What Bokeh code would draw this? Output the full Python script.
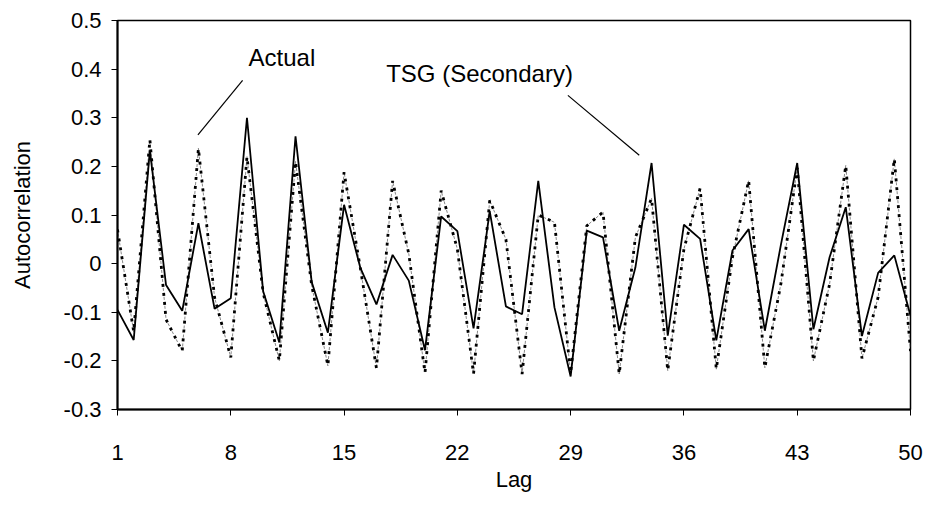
from bokeh.plotting import figure
from bokeh.models import FixedTicker, Range1d
from bokeh.embed import file_html
from bokeh.resources import INLINE
from bokeh.core.properties import value

# ---- data ----
lags = list(range(1, 51))
actual = [0.07, -0.14, 0.255, -0.115, -0.18, 0.237, -0.07, -0.193, 0.22, -0.06,
          -0.2, 0.21, -0.045, -0.21, 0.188, -0.008, -0.215, 0.17, 0.02, -0.225,
          0.15, 0.03, -0.227, 0.13, 0.05, -0.227, 0.1, 0.085, -0.225, 0.078,
          0.106, -0.227, 0.054, 0.134, -0.22, 0.03, 0.155, -0.217, 0.013, 0.171,
          -0.214, -0.04, 0.197, -0.2, -0.042, 0.202, -0.195, -0.069, 0.216, -0.18]
tsg_secondary = [-0.095, -0.157, 0.233, -0.044, -0.097, 0.083, -0.093, -0.071, 0.30, -0.057,
                 -0.162, 0.262, -0.038, -0.142, 0.121, -0.008, -0.084, 0.018, -0.035, -0.178,
                 0.097, 0.067, -0.133, 0.108, -0.088, -0.104, 0.170, -0.090, -0.232, 0.068,
                 0.054, -0.138, -0.008, 0.207, -0.148, 0.080, 0.051, -0.158, 0.027, 0.071,
                 -0.138, 0.04, 0.207, -0.135, 0.013, 0.116, -0.149, -0.019, 0.017, -0.107]
x_ticks = [1, 8, 15, 22, 29, 36, 43, 50]
y_ticks = [-0.3, -0.2, -0.1, 0, 0.1, 0.2, 0.3, 0.4, 0.5]
y_tick_labels = ["-0.3", "-0.2", "-0.1", "0", "0.1", "0.2", "0.3", "0.4", "0.5"]
series_names = ["Actual", "TSG (Secondary)"]

FONT = "Liberation Sans"

p = figure(width=929, height=510, output_backend="svg", toolbar_location=None,
           x_range=Range1d(1, 50), y_range=Range1d(-0.3, 0.5),
           min_border_left=117, min_border_right=19, min_border_top=20,
           min_border_bottom=101)
p.xgrid.visible = False
p.ygrid.visible = False
p.outline_line_color = "black"
p.outline_line_width = 1.5
p.background_fill_color = "white"
p.border_fill_color = "white"

# Actual: thin grey dashed trace underneath a heavy dotted trace
p.line(lags, actual, line_color="#555555", line_width=0.7, line_dash="3 6",
       line_dash_offset=5)
p.line(lags, actual, line_color="black", line_width=2.8, line_dash="3 6")
# TSG (Secondary): solid
p.line(lags, tsg_secondary, line_color="black", line_width=1.8)

# annotations with leader lines
p.line([5.97, 8.73], [0.265, 0.377], line_color="black", line_width=1.2)
p.line([33.24, 28.83], [0.223, 0.346], line_color="black", line_width=1.2)
p.text(x=[9.1], y=[0.423], text=[series_names[0]], text_font=value(FONT),
       text_font_size="24px", text_baseline="middle", text_align="left",
       text_color="black")
p.text(x=[17.6], y=[0.392], text=[series_names[1]], text_font=value(FONT),
       text_font_size="24px", text_baseline="middle", text_align="left",
       text_color="black")

for ax in (p.xaxis[0], p.yaxis[0]):
    ax.axis_line_width = 2
    ax.axis_line_color = "black"
    ax.major_tick_line_color = "black"
    ax.major_tick_line_width = 1
    ax.minor_tick_line_color = None
    ax.major_tick_in = 0
    ax.major_tick_out = 6
    ax.major_label_text_font = FONT
    ax.major_label_text_font_size = "22px"
    ax.major_label_text_color = "black"
    ax.axis_label_text_font = FONT
    ax.axis_label_text_font_size = "22px"
    ax.axis_label_text_font_style = "normal"
    ax.axis_label_text_color = "black"

p.xaxis.ticker = FixedTicker(ticks=x_ticks)
p.yaxis.ticker = FixedTicker(ticks=y_ticks)
p.yaxis.major_label_overrides = {t: s for t, s in zip(y_ticks, y_tick_labels)}
p.xaxis.axis_label = "Lag"
p.yaxis.axis_label = "Autocorrelation"
p.xaxis.major_label_standoff = 29
p.xaxis.axis_label_standoff = 4
p.yaxis.major_label_standoff = 10
p.yaxis.axis_label_standoff = 26

open("out.html", "w").write(file_html(p, INLINE))
